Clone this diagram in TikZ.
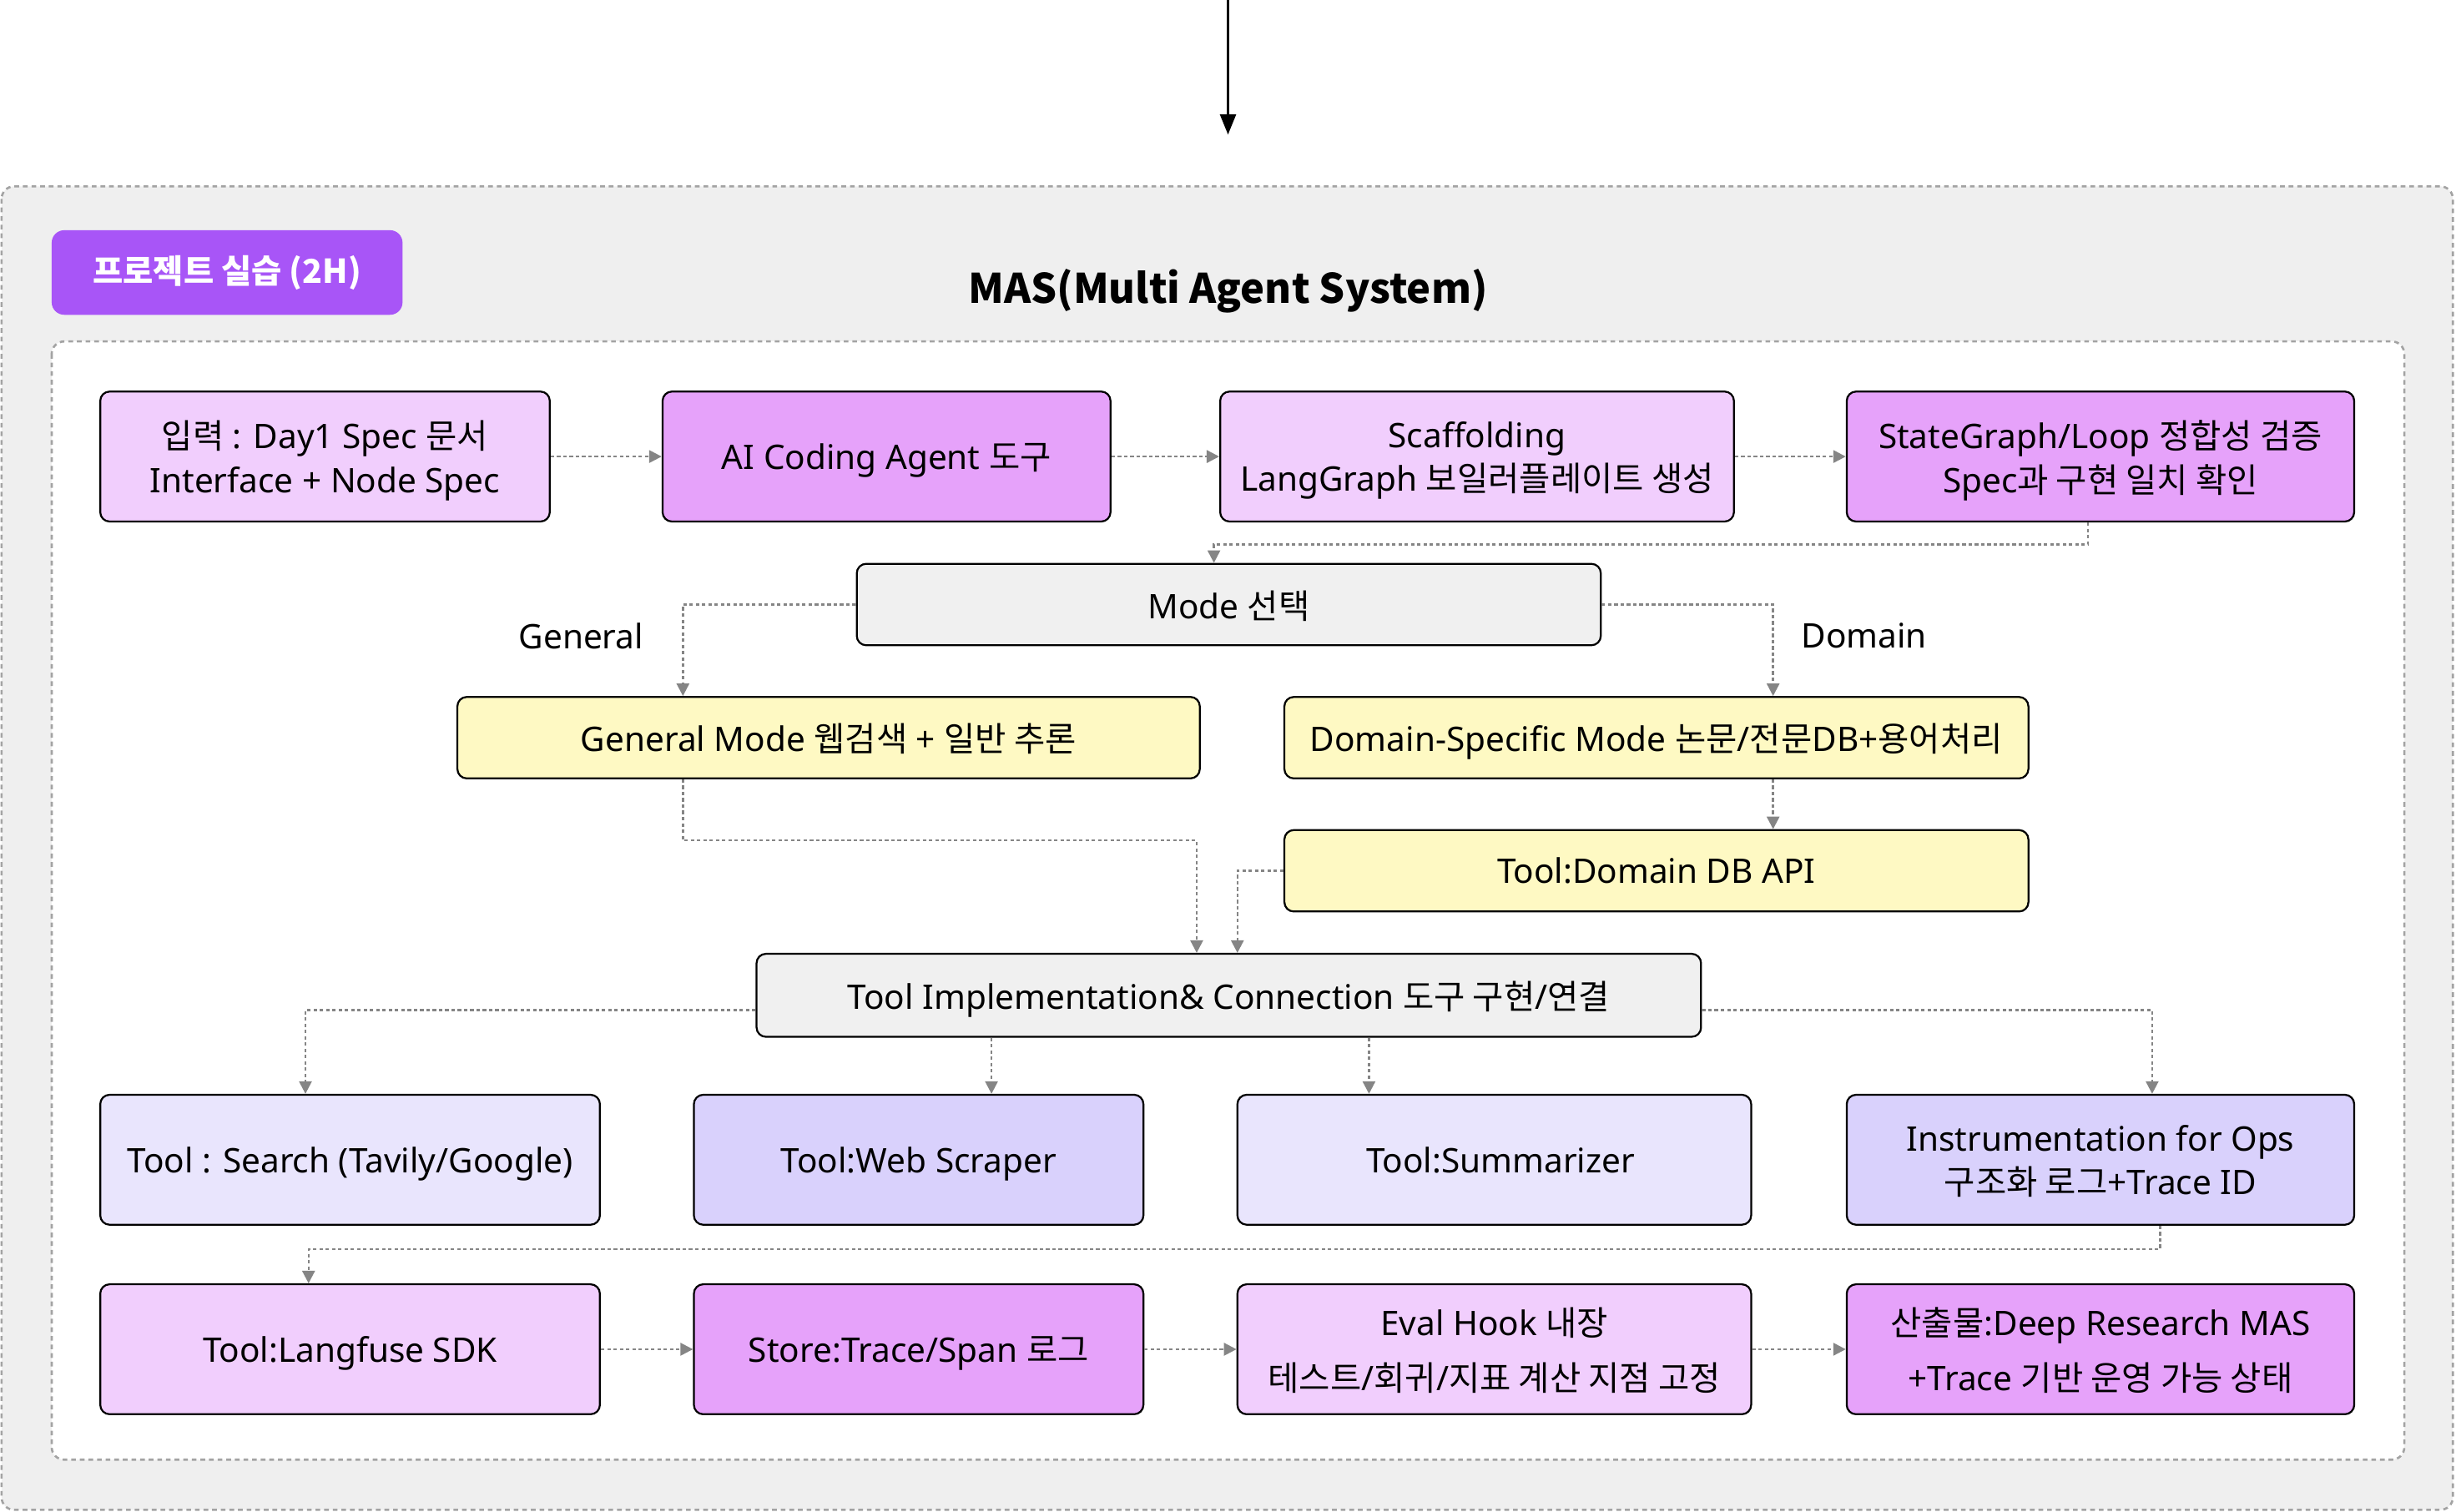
\documentclass[tikz,border=0pt]{standalone}
\usepackage{fontspec}
\setmainfont{Noto Sans}
\newfontfamily\krfont{Noto Sans CJK KR}
\newcommand\hk[1]{{\krfont #1}}
\usetikzlibrary{arrows.meta}
\definecolor{pinkL}{HTML}{F1CEFD}
\definecolor{pinkD}{HTML}{E6A2FA}
\definecolor{lavL}{HTML}{E9E5FD}
\definecolor{lavD}{HTML}{D9D1FC}
\definecolor{ylw}{HTML}{FEF9C3}
\definecolor{gryfill}{HTML}{F0F0F0}
\definecolor{outerfill}{HTML}{EFEFEF}
\definecolor{tagpurple}{HTML}{A855F7}
\definecolor{connc}{HTML}{858585}
\definecolor{dashc}{HTML}{A3A3A3}
\begin{document}
\begin{tikzpicture}[x=1pt,y=-1pt,
  box/.style={draw=black, line width=1.2pt, rounded corners=6pt, inner sep=0pt, align=center,
    font=\fontsize{21.6}{28}\selectfont, text=black, text depth=0pt},
  tall/.style={minimum height=83pt},
  flat/.style={minimum height=52pt},
  conn/.style={draw=connc, line width=1.3pt, dash pattern=on 2.2pt off 1.8pt,
    -{Triangle[length=8pt,width=8pt]}},
  lbl/.style={font=\fontsize{21.6}{26}\selectfont, text=black, inner sep=0pt},
  frame/.style={draw=dashc, line width=1.4pt, dash pattern=on 3pt off 2.5pt, rounded corners=8pt}
]
\useasboundingbox (0,0) rectangle (1568,965.4);
% containers
\draw[frame, fill=outerfill] (1,119) rectangle (1566,964);
\draw[frame, fill=white] (33,218) rectangle (1535,932);
% top arrow
\coordinate (topA) at (784,0);
\coordinate (topB) at (784,86);
\draw[line width=1.8pt, -{Triangle[length=13pt,width=10pt]}] (topA) -- (topB);
% tag & title
\node[fill=tagpurple, rounded corners=8pt, minimum width=224pt, minimum height=54pt, inner sep=0pt,
  text=white, font=\krfont\bfseries\fontsize{21}{24}\selectfont] (tag) at (145,174) {프로젝트 실습 (2H)};
\node[font=\krfont\bfseries\fontsize{26}{30}\selectfont, inner sep=0pt] (title) at (784,186) {MAS(Multi Agent System)};
% row 1
\node[box, tall, fill=pinkL, minimum width=287pt] (A) at (207.5,291.5) {\hk{입력} : Day1 Spec \hk{문서}\\Interface + Node Spec};
\node[box, tall, fill=pinkD, minimum width=286pt] (B) at (566,291.5) {AI Coding Agent \hk{도구}};
\node[box, tall, fill=pinkL, minimum width=328pt] (C) at (943,291.5) {Scaffolding\\LangGraph \hk{보일러플레이트 생성}};
\node[box, tall, fill=pinkD, minimum width=324pt] (D) at (1341,291.5) {StateGraph/Loop \hk{정합성 검증}\\Spec\hk{과 구현 일치 확인}};
% mode
\node[box, flat, fill=gryfill, minimum width=475pt] (M) at (784.5,386) {Mode \hk{선택}};
\node[box, flat, fill=ylw, minimum width=474pt] (G) at (529,471) {General Mode \hk{웹검색} + \hk{일반 추론}};
\node[box, flat, fill=ylw, minimum width=475pt] (Dm) at (1057.5,471) {Domain-Specific Mode \hk{논문}/\hk{전문}DB+\hk{용어처리}};
\node[box, flat, fill=ylw, minimum width=475pt] (DB) at (1057.5,556) {Tool:Domain DB API};
\node[box, minimum height=53pt, fill=gryfill, minimum width=603pt] (TI) at (784.5,635.5) {Tool Implementation\& Connection \hk{도구 구현}/\hk{연결}};
\node[lbl] (gl) at (371,406) {General};
\node[lbl] (dl) at (1190,406) {Domain};
% row 3
\node[box, tall, fill=lavL, minimum width=319pt] (S) at (223.5,740.5) {Tool : Search (Tavily/Google)};
\node[box, tall, fill=lavD, minimum width=287pt] (W) at (586.5,740.5) {Tool:Web Scraper};
\node[box, tall, fill=lavL, minimum width=328pt] (Su) at (954,740.5) {\hspace{8pt}Tool:Summarizer};
\node[box, tall, fill=lavD, minimum width=324pt] (I) at (1341,740.5) {Instrumentation for Ops\\\hk{구조화 로그}+Trace ID};
% row 4
\node[box, tall, fill=pinkL, minimum width=319pt] (L) at (223.5,861.5) {Tool:Langfuse SDK};
\node[box, tall, fill=pinkD, minimum width=287pt] (St) at (586.5,861.5) {Store:Trace/Span \hk{로그}};
\node[box, tall, fill=pinkL, minimum width=328pt, font=\fontsize{21.6}{35}\selectfont] (E) at (954,861.5) {Eval Hook \hk{내장}\\\hk{테스트}/\hk{회귀}/\hk{지표 계산 지점 고정}};
\node[box, tall, fill=pinkD, minimum width=324pt, font=\fontsize{21.6}{35}\selectfont] (O) at (1341,861.5) {\hk{산출물}:Deep Research MAS\\+Trace \hk{기반 운영 가능 상태}};
% connectors
\draw[conn] (A.east) -- (B.west);
\draw[conn] (B.east) -- (C.west);
\draw[conn] (C.east) -- (D.west);
\draw[conn] ([xshift=-8pt]D.south) -- ++(0,14) -| ([xshift=-9.5pt]M.north);
\draw[conn] (M.west) -| ([xshift=-93pt]G.north);
\draw[conn] (M.east) -| ([xshift=74.5pt]Dm.north);
\draw[conn] ([xshift=74.5pt]Dm.south) -- ([xshift=74.5pt]DB.north);
\draw[conn] ([xshift=-93pt]G.south) -- ++(0,39) -| ([xshift=-20.5pt]TI.north);
\draw[conn] (DB.west) -| ([xshift=5.5pt]TI.north);
\draw[conn] ([yshift=-9.5pt]TI.west) -| ([xshift=-28.5pt]S.north);
\draw[conn] ([xshift=-151.5pt]TI.south) -- ([xshift=-151.5pt]TI.south |- W.north);
\draw[conn] ([xshift=89.5pt]TI.south) -- ([xshift=89.5pt]TI.south |- Su.north);
\draw[conn] ([yshift=-9.5pt]TI.east) -| ([xshift=33pt]I.north);
\draw[conn] ([xshift=38pt]I.south) -- ++(0,15) -| ([xshift=-26.5pt]L.north);
\draw[conn] (L.east) -- (St.west);
\draw[conn] (St.east) -- (E.west);
\draw[conn] (E.east) -- (O.west);
\end{tikzpicture}
\end{document}
